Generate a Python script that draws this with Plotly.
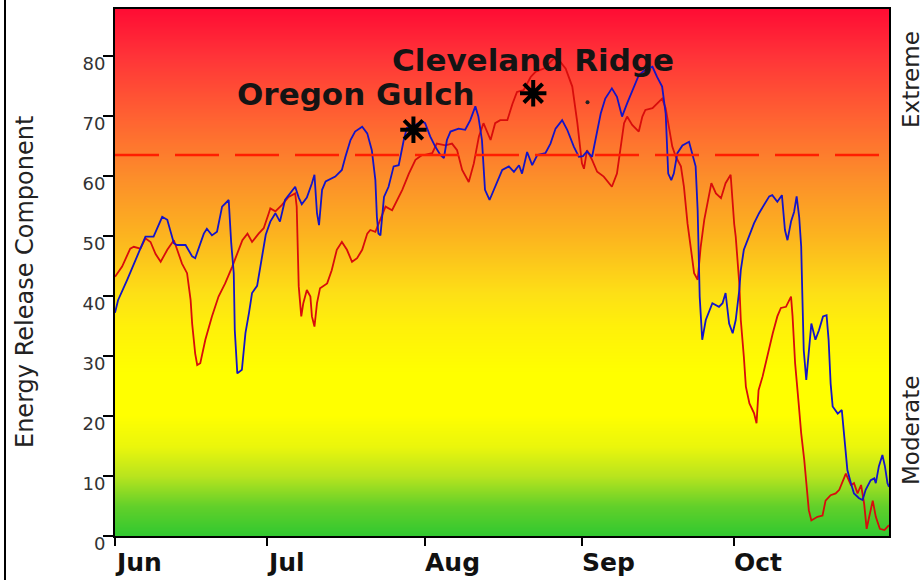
import pandas as pd
import plotly.graph_objects as go

start = pd.Timestamp("2014-06-01")

# ---- data (days since Jun 1, ERC value) ----
blue_days = [0, 0.6, 2.4, 4, 6, 7.6, 9.3, 10.3, 11.6, 12.2, 13.9, 15.2, 15.8, 17.5, 18.1, 19.1, 20.1,
             21.1, 22.4, 22.9, 23.4, 23.6, 24.1, 25, 25.7, 26.4, 27, 28, 28.7, 29.7, 30.6, 31.6, 32.5,
             33.5, 35.5, 36.2, 36.8, 37.8, 38.8, 39.3, 39.8, 40.2, 40.8, 41.5, 43.4, 44.7, 45.4, 46.4,
             47.3, 48.7, 49.7, 50.6, 51.3, 51.6, 51.9, 52.3, 53, 53.9, 54.9, 55.9, 56.9, 57.5, 58.5,
             60.5, 61.1, 62.1, 63.1, 64.1, 64.8, 65.4, 66.1, 67.7, 69, 70, 71, 71.6, 72.3, 72.6, 72.9,
             73.8, 74.9, 76.3, 77.6, 78.6, 79.6, 80.2, 81.2, 82.2, 83.2, 84.8, 85.8, 86.8, 88.1, 89.1,
             90.4, 91.4, 92.2, 93, 94, 94.7, 95.7, 96.6, 97.9, 98.9, 99.9, 100.9, 102.2, 103.2, 104.5,
             105.9, 106.8, 107.8, 108.5, 109, 109.6, 110.1, 110.8, 111.8, 113.1, 114.1, 114.4, 114.8,
             115, 115.2, 115.7, 116.4, 117.7, 119, 119.7, 120.3, 121, 121.7, 122.3, 123, 123.3, 123.9,
             124.9, 125.9, 126.9, 127.9, 128.9, 129.5, 130.5, 131.4, 132, 132.5, 133.2, 133.8, 134.3,
             134.8, 135.2, 135.4, 135.7, 136.2, 136.7, 137.2, 138, 138.7, 139.5, 140.2, 140.6, 141,
             141.4, 142.4, 143.2, 143.5, 143.9, 144.3, 145, 145.6, 146.6, 147.3, 147.9, 148.9, 149.6,
             149.9, 150.5, 151.2, 151.7, 152.2, 152.5]
blue_erc = [37.2, 39.3, 42.7, 46, 49.9, 49.9, 53.2, 52.7, 48.8, 48.5, 48.5, 46.6, 46.3, 50.4, 51.2, 50.1, 50.7,
            54.9, 56, 48.8, 43.8, 34.3, 27.1, 27.7, 33.8, 37.2, 40.5, 41.7, 45.5, 50.2, 52.4, 53.8, 52.4,
            56, 58.2, 56.4, 55.3, 56.4, 58.8, 60.2, 53.8, 51.8, 57.7, 59.1, 59.9, 61, 63.2, 66,
            67.4, 68.2, 67.1, 64.3, 59.3, 53.2, 50.4, 50.1, 56.5, 58.2, 61.6, 61.8, 66, 68, 68.2,
            69.1, 68.8, 66.6, 64.9, 63.5, 63, 66, 67.4, 67.9, 67.7, 69.3, 71.6, 69.9, 66, 61.6, 57.7,
            56, 58.2, 61, 61.6, 60.7, 61.8, 60.4, 64, 61.8, 63.5, 63.8, 65.4, 67.9, 69.3, 67.7,
            64.9, 63.2, 63.3, 64.1, 63.2, 66, 70.4, 72.9, 74.6, 73.2, 69.9, 72.1, 74.9, 76.8, 77.7,
            78.2, 76.5, 74.9, 70.4, 60.4, 59.3, 60.4, 63.8, 65.1, 65.7, 62.7, 61.6, 54.3,
            47.7, 39.9, 32.7, 36, 38.8, 38.2, 38.8, 40.5, 35.4, 33.8, 36, 41, 44.3, 47.7,
            49.9, 52.1, 53.8, 55.2, 56.6, 56.8, 55.7, 56.8, 51, 49.3, 52.4, 54, 56.6,
            53.2, 48.2, 41, 31, 26, 31, 35.4, 32.7, 34.3, 36.6, 36.8, 32.7, 25.4,
            21.6, 20.4, 21, 18.2, 13.8, 11, 8.8, 7.1, 6.3, 6, 7.7, 9.3, 9.6,
            8.8, 11.6, 13.5, 11.6, 8.8, 8.2]

red_days = [0, 1.4, 3, 3.7, 5, 6, 7, 8, 9, 10.3, 11.6, 12.2, 13.2, 14.2, 14.9, 15.2, 15.8, 16.2, 16.8,
            17.8, 19.1, 20.4, 21.7, 23.1, 24.1, 25.1, 26.1, 27, 28.3, 29.3, 30.3, 30.6, 31.6, 32.9,
            34.2, 35.5, 35.8, 36.2, 36.7, 37.1, 37.8, 38.5, 38.8, 39.3, 39.8, 40.4, 41.8, 42.7, 43.7,
            44.7, 45.7, 46.7, 47.7, 48.7, 49.7, 50.3, 51.3, 52.3, 53.3, 54.6, 55.6, 56.6, 57.9, 59.2,
            60.5, 61.1, 62.5, 63.4, 65.1, 66.4, 67.4, 68.4, 69.7, 70.7, 71.7, 72.6, 74, 74.9, 75.9,
            77.3, 78.3, 79.2, 80.5, 81.9, 82.9, 84.5, 86.5, 87.5, 88.8, 90.1, 91.1, 91.7, 92, 92.4,
            93, 94, 95, 96.3, 97.9, 98.9, 99.6, 100.3, 100.9, 101.9, 103.2, 103.9, 104.5, 105.9,
            107.2, 107.8, 108.5, 109.2, 109.8, 110.5, 111.5, 112.1, 112.8, 113.5, 114.1, 114.8,
            115.4, 116.1, 116.7, 117.5, 118.4, 119.4, 120.3, 121.3, 122, 122.3, 123, 123.3, 123.9,
            124.3, 125, 125.9, 126.4, 126.8, 127.6, 128.2, 128.9, 129.6, 130.5, 131.2, 132.2, 133.2,
            133.5, 134, 134.7, 135.2, 135.8, 136.2, 136.7, 137.2, 138.4, 139.4, 140, 141, 142, 142.7,
            143.4, 144, 145, 145.6, 146.3, 147, 147.6, 148.1, 148.6, 149.3, 149.9, 150.7, 151.6, 152.5]
red_erc = [43.2, 44.9, 47.9, 48.2, 47.9, 49.6, 49, 47, 45.7, 47.7, 49.3, 47.9, 45.4, 43.8, 39.3, 35.4, 30.4, 28.5, 28.8,
           32.7, 36.6, 39.9, 42.1, 44.9, 47, 49.3, 50.4, 49, 50.4, 51.3, 53.8, 54.6, 54.1, 55.2,
           56.5, 57.1, 54.9, 41.6, 36.6, 38.8, 41, 39.9, 36.6, 34.9, 38.8, 41.3, 42.1, 44.3, 47.7,
           49, 47.7, 45.7, 46.3, 47.7, 50.4, 51, 50.7, 52.7, 54.9, 54.3, 56, 57.7, 60.4, 62.7,
           63.5, 63.5, 63.8, 65.4, 65.1, 65.4, 64.3, 61, 59, 62.1, 66.6, 68.8, 66, 68.8, 69.3,
           69.3, 72, 74, 74.3, 76.5, 77.4, 77.9, 79.6, 79.3, 77.9, 74.9, 68.8, 64.3, 62.1, 61.2,
           64.3, 62.7, 60.7, 59.9, 58.2, 60.4, 64.3, 68.8, 69.9, 68.5, 67.4, 69.9, 71, 71.3,
           72.4, 72.9, 71.3, 67.7, 64.9, 63.2, 61.6, 58.2, 52.1, 47.7, 43.8, 42.7,
           48.2, 52.7, 55.4, 58.8, 57.1, 56.3, 58.8, 60.2, 52, 49.9, 42.1, 36, 29.9,
           24.9, 22.1, 20.5, 18.8, 24.3, 26.6, 28.8, 31, 33.8, 36.6, 38, 38.2, 39.9,
           36.6, 28.8, 22.1, 17.1, 12.7, 8.8, 4.3, 2.6, 3.2, 3.4, 5.9, 6.8, 7.1, 7.7,
           9, 10.4, 8.5, 8.8, 7.1, 8.5, 5.4, 1.2, 3.2, 5.9, 3.2, 1.2, 1, 1.8]

fire_names = ["Oregon Gulch", "Cleveland Ridge"]
fire_days = [58.8, 82.4]
fire_erc = [67.7, 73.8]
dot_days = [93.1]
dot_erc = [72.3]

threshold_erc = 63.5
month_labels = ["Jun", "Jul", "Aug", "Sep", "Oct"]
month_starts = ["2014-06-01", "2014-07-01", "2014-08-01", "2014-09-01", "2014-10-01"]
y_ticks = [0, 10, 20, 30, 40, 50, 60, 70, 80]
side_labels = ["Extreme", "Moderate"]


def to_dates(days):
    return [start + pd.Timedelta(days=d) for d in days]


FONT = "DejaVu Sans"
W, H = 924, 580
L, R, T, B = 115, 35, 9, 44
PW, PH = W - L - R, H - T - B
YMAX = 87.83
x_end = start + pd.Timedelta(days=152.5)

fig = go.Figure()

# background gradient
levels = [v * 0.5 for v in range(-6, 184)]
grad_scale = [
    [0.0, "#30c830"], [0.057, "#62d02a"], [0.114, "#b8e41e"], [0.17, "#eaf60c"],
    [0.23, "#ffff00"], [0.31, "#ffff00"], [0.40, "#fff00a"], [0.46, "#fde016"],
    [0.57, "#fcb41f"], [0.68, "#fc8e2a"], [0.8, "#ff6032"], [0.91, "#ff3438"], [1.0, "#ff0c34"],
]
fig.add_trace(go.Heatmap(
    x=[start - pd.Timedelta(days=10), start + pd.Timedelta(days=170)],
    y=levels, z=[[v, v] for v in levels], zmin=0, zmax=YMAX,
    colorscale=grad_scale, zsmooth="best", showscale=False, hoverinfo="skip",
))

fig.add_trace(go.Scatter(x=to_dates(red_days), y=red_erc, mode="lines",
                         line=dict(color="#d80c0c", width=1.8), name="Red"))
fig.add_trace(go.Scatter(x=to_dates(blue_days), y=blue_erc, mode="lines",
                         line=dict(color="#1414c8", width=1.8), name="Blue"))
fig.add_trace(go.Scatter(x=to_dates(fire_days), y=fire_erc, mode="markers",
                         marker=dict(symbol="asterisk-open", size=22, color="black",
                                     line=dict(color="black", width=4)), name="Fires"))
fig.add_trace(go.Scatter(x=to_dates(dot_days), y=dot_erc, mode="markers",
                         marker=dict(symbol="circle", size=4, color="#222"), name="dot"))

fig.add_shape(type="line", xref="paper", yref="y", x0=0, x1=1, y0=threshold_erc, y1=threshold_erc,
              line=dict(color="#ff1e00", width=2.5, dash="44px,16px"))
# outer left border of picture
bx = (5 - L) / PW
fig.add_shape(type="line", xref="paper", yref="paper", x0=bx, x1=bx, y0=-B / PH, y1=(PH + T) / PH,
              line=dict(color="black", width=2))

annots = []
# fire labels
annots.append(dict(x=start + pd.Timedelta(days=47.5), y=73.7, xref="x", yref="y", text=fire_names[0],
                   showarrow=False, xanchor="center", yanchor="middle",
                   font=dict(family=FONT, size=31, color="#141414", weight="bold")))
annots.append(dict(x=start + pd.Timedelta(days=82.3), y=79.3, xref="x", yref="y", text=fire_names[1],
                   showarrow=False, xanchor="center", yanchor="middle",
                   font=dict(family=FONT, size=31, color="#141414", weight="bold")))
# month labels (left aligned at tick)
for lab, d in zip(month_labels, month_starts):
    annots.append(dict(x=d, y=0, xref="x", yref="paper", text=lab, showarrow=False,
                       xanchor="left", yanchor="top", yshift=-10, xshift=-2,
                       font=dict(family=FONT, size=25, color="#111", weight="bold")))
# y title
annots.append(dict(x=(25 - L) / PW, y=(536 - 282) / PH, xref="paper", yref="paper",
                   text="Energy Release Component", textangle=-90, showarrow=False,
                   xanchor="center", yanchor="middle",
                   font=dict(family=FONT, size=24, color="#222")))
# side labels
annots.append(dict(x=(911 - L) / PW, y=(536 - 80) / PH, xref="paper", yref="paper",
                   text=side_labels[0], textangle=-90, showarrow=False,
                   xanchor="center", yanchor="middle",
                   font=dict(family=FONT, size=23, color="#222")))
annots.append(dict(x=(911 - L) / PW, y=(536 - 431) / PH, xref="paper", yref="paper",
                   text=side_labels[1], textangle=-90, showarrow=False,
                   xanchor="center", yanchor="middle",
                   font=dict(family=FONT, size=23, color="#222")))

fig.update_layout(
    width=W, height=H, margin=dict(l=L, r=R, t=T, b=B, autoexpand=False),
    paper_bgcolor="white", plot_bgcolor="white", showlegend=False,
    annotations=annots,
    xaxis=dict(type="date", range=[start, x_end], tickvals=month_starts, showticklabels=False,
               ticks="outside", ticklen=8, tickwidth=2, tickcolor="black",
               showline=True, linecolor="black", linewidth=2, mirror=True,
               showgrid=False, zeroline=False),
    yaxis=dict(range=[0, YMAX], tickvals=y_ticks, ticks="outside", ticklen=10, tickwidth=1.5,
               tickcolor="black", showline=True, linecolor="black", linewidth=2, mirror=True,
               showgrid=False, zeroline=False, ticklabelshift=8, ticklabelstandoff=-6,
               tickfont=dict(family=FONT, size=18, color="#333")),
)

fig.write_html("out.html", config={"displayModeBar": False},
               post_script="document.body.style.margin='0px';document.body.style.padding='0px';"
                           "document.documentElement.style.overflow='hidden';")
